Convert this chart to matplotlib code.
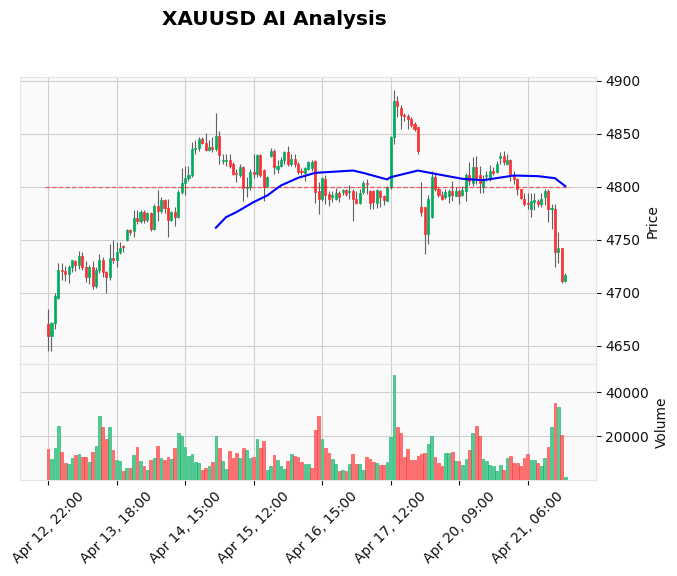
import matplotlib
matplotlib.use("Agg")
import matplotlib.pyplot as plt
from matplotlib.ticker import MultipleLocator, FixedLocator
import numpy as np

title = "XAUUSD AI Analysis"
tick_idx = [0, 20, 40, 60, 80, 100, 120, 140]
tick_labels = ["Apr 12, 22:00", "Apr 13, 18:00", "Apr 14, 15:00", "Apr 15, 12:00",
               "Apr 16, 15:00", "Apr 17, 12:00", "Apr 20, 09:00", "Apr 21, 06:00"]

opens = [4671, 4659, 4672, 4695, 4722, 4721, 4718, 4724, 4730, 4726,
         4735, 4724, 4715, 4724, 4707, 4722, 4731, 4720, 4715, 4733,
         4731, 4739, 4744, 4750, 4759, 4758, 4771, 4768, 4776, 4769,
         4775, 4760, 4782, 4777, 4788, 4780, 4769, 4776, 4772, 4795,
         4804, 4808, 4811, 4836, 4837, 4845, 4841, 4835, 4838, 4836,
         4848, 4824, 4824, 4825.5, 4822, 4813, 4811, 4819, 4799, 4800,
         4814, 4812, 4830, 4816, 4801, 4829, 4834, 4817, 4820, 4825,
         4833, 4822, 4826, 4822, 4815, 4813, 4817, 4818, 4824, 4796,
         4789, 4807, 4793, 4790, 4789, 4794, 4795, 4797, 4795, 4796,
         4789, 4785, 4795, 4804, 4796, 4796, 4785, 4796, 4791, 4787,
         4800, 4847, 4881, 4874, 4868, 4867, 4864, 4859, 4856, 4781,
         4781, 4756, 4772, 4809, 4798, 4792, 4790, 4791, 4796, 4791,
         4796, 4792, 4796, 4811, 4804, 4819, 4811, 4800, 4810, 4808,
         4815, 4814, 4827, 4829, 4822, 4825, 4811, 4807, 4798, 4789,
         4785, 4779, 4786, 4787, 4784, 4790, 4796, 4779, 4779, 4739,
         4742, 4711]
highs = [4685, 4673, 4700, 4728, 4728, 4725, 4726, 4731, 4731, 4740,
         4739, 4730, 4726, 4730, 4724, 4737, 4734, 4721, 4746, 4750,
         4748, 4748, 4745, 4760, 4760, 4778, 4778, 4778, 4778, 4776,
         4776, 4784, 4797, 4790, 4789, 4789, 4777, 4781, 4797, 4818,
         4820, 4820, 4842, 4844, 4847, 4847, 4851, 4844, 4847, 4870,
         4853, 4831, 4831, 4831, 4823, 4817, 4822, 4820, 4809, 4817,
         4831, 4831, 4831, 4817, 4810, 4837, 4836, 4825, 4828, 4834,
         4839, 4831, 4831, 4823, 4818, 4819, 4824, 4825, 4825, 4805,
         4809, 4811, 4796, 4796, 4799, 4796, 4798, 4798, 4802, 4798,
         4796, 4798, 4806, 4807, 4797, 4797, 4798, 4797, 4792, 4801,
         4848, 4891, 4886, 4877, 4870, 4869, 4866, 4861, 4856, 4805,
         4781, 4792, 4815, 4812, 4800, 4796, 4798, 4798, 4806, 4800,
         4798, 4801, 4813, 4823, 4828, 4829, 4820, 4811, 4815, 4821,
         4819, 4824, 4833, 4834, 4831, 4826, 4815, 4808, 4798, 4794,
         4794, 4794, 4794, 4789, 4794, 4798, 4798, 4784, 4784, 4757,
         4742, 4719]
lows = [4645, 4645, 4666, 4694, 4712, 4711, 4709, 4720, 4721, 4723,
        4722, 4710, 4708, 4704, 4705, 4719, 4715, 4700, 4712, 4728,
        4724, 4737, 4739, 4749, 4755, 4753, 4765, 4766, 4766, 4767,
        4758, 4759, 4768, 4775, 4775, 4753, 4768, 4763, 4771, 4793,
        4792, 4806, 4809, 4831, 4834, 4840, 4834, 4834, 4833, 4834,
        4822, 4822, 4820, 4818, 4811, 4805, 4809, 4787, 4790, 4797,
        4808, 4809, 4809, 4787, 4800, 4828, 4812, 4813, 4819, 4822,
        4820, 4820, 4819, 4812, 4811, 4806, 4816, 4815, 4785, 4774,
        4787, 4784, 4782, 4786, 4788, 4786, 4792, 4791, 4789, 4768,
        4784, 4784, 4793, 4793, 4779, 4779, 4780, 4781, 4783, 4787,
        4798, 4840, 4866, 4855, 4862, 4855, 4856, 4853, 4831, 4773,
        4737, 4746, 4771, 4796, 4790, 4788, 4789, 4785, 4787, 4791,
        4784, 4791, 4787, 4802, 4801, 4803, 4794, 4794, 4806, 4806,
        4811, 4813, 4822, 4821, 4821, 4806, 4803, 4792, 4789, 4782,
        4779, 4772, 4778, 4781, 4781, 4783, 4767, 4760, 4724, 4728,
        4709, 4710]
closes = [4659, 4672, 4697, 4722, 4721, 4718, 4724, 4731, 4726, 4735,
          4724, 4715, 4724, 4707, 4722, 4731, 4720, 4715, 4733, 4731,
          4739, 4742, 4743, 4759, 4757, 4771, 4768, 4776, 4769, 4775,
          4760, 4782, 4777, 4788, 4780, 4769, 4776, 4772, 4795, 4804,
          4808, 4811, 4836, 4837, 4845, 4841, 4835, 4838, 4836, 4848,
          4830, 4825, 4825, 4820, 4812, 4812, 4819, 4799, 4800, 4814,
          4812, 4830, 4811, 4800, 4809, 4834, 4819, 4820, 4825, 4833,
          4822, 4826, 4822, 4814, 4814, 4818, 4823, 4823, 4795, 4789,
          4808, 4792, 4789, 4792, 4794, 4790, 4797, 4793, 4796, 4789,
          4785, 4794, 4804, 4803, 4785, 4786, 4797, 4790, 4788, 4800,
          4847, 4881, 4876, 4868, 4866.5, 4864, 4858, 4855, 4834, 4776,
          4756, 4789, 4809, 4798, 4792, 4789, 4795, 4796, 4792, 4796,
          4791, 4797, 4811, 4806, 4819, 4808, 4804, 4806, 4811, 4815,
          4813, 4822, 4829, 4823, 4825, 4811, 4807, 4798, 4789.5, 4784,
          4784, 4787, 4787.5, 4784, 4789, 4796, 4779, 4780, 4739, 4742,
          4711, 4717]
volumes = [14440, 9920, 14890, 24800, 12940, 8120, 7670, 10380, 11580, 12180,
           10830, 10830, 8570, 13080, 15490, 29330, 24360, 18950, 24360, 13990,
           9480, 9020, 4510, 5870, 5870, 11730, 15200, 9020, 6770, 4960,
           9480, 10230, 15790, 10230, 9480, 10680, 9780, 14740, 21500, 20000,
           15200, 11200, 12180, 8420, 7970, 4660, 5720, 6470, 8420, 20300,
           14740, 9020, 5410, 13240, 10230, 12480, 10230, 14740, 13690, 10230,
           10680, 18800, 14740, 18050, 4960, 6770, 11730, 9320, 6470, 5260,
           9020, 12180, 11200, 10680, 8420, 7670, 7670, 5710, 23010, 29330,
           18950, 14740, 12480, 9930, 7670, 4510, 4960, 4510, 7670, 12030,
           7670, 7670, 4960, 10830, 9930, 8570, 7970, 7220, 7220, 8570,
           19700, 47860, 24500, 21500, 10530, 14440, 9480, 9480, 10980, 12030,
           12480, 16540, 20300, 10530, 7970, 6770, 12480, 12480, 12940, 9020,
           9020, 7220, 9780, 13990, 21500, 24820, 20300, 9930, 8720, 7220,
           6470, 4210, 7220, 4960, 10230, 11280, 7970, 7970, 6470, 10230,
           12030, 9480, 9480, 7970, 6470, 10240, 15200, 24230, 35040, 33400,
           20760, 1800]
# volume bar direction as seen in the picture (G = up colour, R = down colour)
volume_dir = ("RGGGRRGGRG" "RRGRGGRRGR" "GGRGRGRGRG" "RGRGRRGRGG" "GGGGGRRGRG"
              "RGGRRRGRGG" "RGRRGGRGGG" "RGRRRGGRRR" "GRRGGRGRGR" "RGGRRRGRRG"
              "GGRRRRRRRR" "RGGRRRGGRG" "RGGRGRRGGG" "GGGRGRRRRR" "RGGRGGRGRG"
              "RG")

# moving average line (bar index, value)
ma_idx = [49, 52, 55, 60, 64, 68, 73, 78, 89, 92, 99, 100, 108, 113, 121, 127, 136, 143, 148, 151]
ma_val = [4761.5, 4771.5, 4776.2, 4785.6, 4791.9, 4801.3, 4808.5, 4813.2, 4815.4, 4813.2,
          4807.0, 4809.1, 4815.4, 4812.3, 4807.6, 4806.3, 4810.7, 4810.1, 4808.2, 4800.7]
hline_level = 4800

UP, DOWN = '#00b060', '#fe3032'
VUP, VDOWN = '#4dc790', '#fd6b6c'
FACE = '#fafafa'
GRID = '#d0d0d0'

n = len(closes)
x = np.arange(n)
o = np.array(opens, float); c = np.array(closes, float)
h = np.array(highs, float); l = np.array(lows, float)
v = np.array(volumes, float)

fig = plt.figure(figsize=(6.77, 5.76), dpi=100)
axp = fig.add_axes([0.0295, 0.3675, 0.8504, 0.4983])
axv = fig.add_axes([0.0295, 0.1675, 0.8504, 0.2], sharex=axp)

for ax in (axp, axv):
    ax.set_facecolor(FACE)
    for s in ax.spines.values():
        s.set_color('#e4e4e4')
        s.set_linewidth(0.8)
    ax.grid(True, color=GRID, linewidth=0.8, linestyle='-')
    ax.set_axisbelow(True)
    ax.yaxis.tick_right()
    ax.yaxis.set_label_position('right')
    ax.tick_params(axis='y', colors='#101010', labelsize=10, left=False, right=True)

# candles
up = c >= o
cols = np.where(up, UP, DOWN)
axp.vlines(x, l, h, color='#606060', linewidth=0.8, zorder=2)
body = np.where(np.abs(c - o) < 0.01, 0.01, c - o)
axp.bar(x, body, bottom=o, width=0.6, color=cols, edgecolor=cols,
        linewidth=0.6, alpha=0.9, zorder=3)

# moving average and horizontal level
axp.plot(ma_idx, ma_val, color='#0000ff', linewidth=1.5, zorder=4)
axp.plot([-1, n], [hline_level, hline_level], color='red', alpha=0.55,
         linewidth=0.9, linestyle='--', zorder=3)

rng = h.max() - l.min()
axp.set_ylim(l.min() - 0.05 * rng, h.max() + 0.05 * rng)
axp.yaxis.set_major_locator(MultipleLocator(50))
axp.set_ylabel('Price', fontsize=10, color='#101010')
axp.tick_params(axis='x', bottom=False, labelbottom=False)

# volume
vcols = [VUP if d == 'G' else VDOWN for d in volume_dir]
vedge = [UP if d == 'G' else DOWN for d in volume_dir]
axv.bar(x, v, width=0.8, color=vcols, edgecolor=vedge, linewidth=0.4,
        alpha=0.95, zorder=3)
axv.set_ylim(0.3 * v.min(), 1.1 * v.max())
axv.yaxis.set_major_locator(MultipleLocator(20000))
axv.set_ylabel('Volume', fontsize=10, color='#101010')

axp.set_xlim(-8.2, n + 7.9)
axv.xaxis.set_major_locator(FixedLocator(tick_idx))
axv.set_xticklabels(tick_labels, rotation=45, ha='center', fontsize=10, color='#101010')
axv.tick_params(axis='x', colors='#101010')

fig.text(0.4055, 0.967, title, ha='center', va='center', fontsize=14.4,
         fontweight='bold')

fig.savefig('out.png', dpi=100, facecolor='white')
